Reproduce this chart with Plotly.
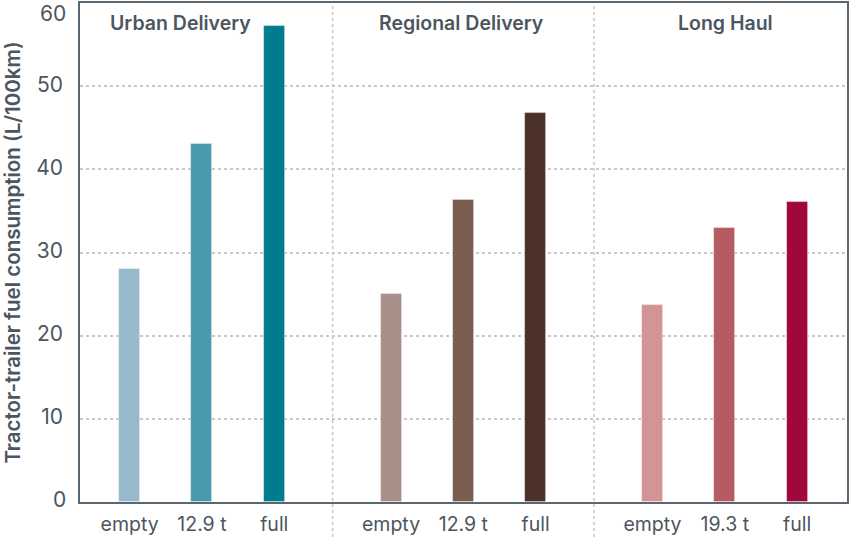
import plotly.graph_objects as go

# ---- data ----
groups = ["Urban Delivery", "Regional Delivery", "Long Haul"]
load_labels = [["empty", "12.9 t", "full"],
               ["empty", "12.9 t", "full"],
               ["empty", "19.3 t", "full"]]
urban = [28.0, 43.1, 57.2]
regional = [25.0, 36.3, 46.8]
longhaul = [23.7, 33.0, 36.1]
values = [urban, regional, longhaul]
colors = [["#96bac9", "#4a9aaf", "#007c91"],
          ["#a89088", "#7a5c50", "#4c3128"],
          ["#d39497", "#b65b63", "#a1063d"]]
y_ticks = [0, 10, 20, 30, 40, 50, 60]

# ---- layout helpers ----
STRIDE = 3.615          # distance between first bars of consecutive groups
TEXT = "#4b5660"
FONT = "Inter"
title_shift = [-21, -2, 1]   # horizontal pixel offsets of group titles

fig = go.Figure()
tickvals, ticktext = [], []
for g, (name, labs, vals, cols) in enumerate(zip(groups, load_labels, values, colors)):
    xs = [g * STRIDE + i for i in range(len(vals))]
    tickvals += xs
    ticktext += labs
    fig.add_trace(go.Bar(
        x=xs, y=vals, width=0.29,
        marker=dict(color=cols, line=dict(color="rgba(255,255,255,0.5)", width=0.8)),
        showlegend=False, hoverinfo="y",
    ))
    fig.add_annotation(x=g * STRIDE + 1, y=57.6, xref="x", yref="y",
                       xshift=title_shift[g],
                       text=name, showarrow=False,
                       font=dict(family=FONT, size=19.5, color=TEXT, weight=600))
    if g > 0:
        xsep = g * STRIDE - (STRIDE - 2) / 2
        fig.add_shape(type="line", xref="x", yref="paper", x0=xsep, x1=xsep,
                      y0=-0.07, y1=1, layer="below",
                      line=dict(color="#c6c6c6", width=1.5, dash="dot"))

# end tick labels (0 and 60) sit slightly inside the frame
for v, shift in ((y_ticks[0], 3), (y_ticks[-1], -10)):
    fig.add_annotation(xref="paper", yref="y", x=0, y=v, xanchor="right",
                       xshift=-12, yshift=shift, text=str(v), showarrow=False,
                       font=dict(family=FONT, size=21, color=TEXT))

fig.add_annotation(xref="paper", yref="paper", x=0, y=0.5, xshift=-68,
                   xanchor="center", yanchor="middle",
                   text="Tractor-trailer fuel consumption (L/100km)",
                   textangle=-90, showarrow=False,
                   font=dict(family=FONT, size=20.5, color=TEXT, weight=600))

fig.update_layout(
    width=850, height=537,
    margin=dict(l=80, r=1, t=2, b=33),
    paper_bgcolor="white", plot_bgcolor="white",
    font=dict(family=FONT, color=TEXT),
    bargap=0,
)
fig.update_xaxes(
    range=[-0.686, 2 * STRIDE + 2 + 0.69],
    tickvals=tickvals, ticktext=ticktext,
    tickfont=dict(family=FONT, size=19.5, color=TEXT),
    showgrid=False, zeroline=False,
    showline=True, mirror=True, linecolor="#5b6770", linewidth=1.5,
    ticks="outside", ticklen=4, tickcolor="rgba(0,0,0,0)",
)
fig.update_yaxes(
    range=[0, 60], tickvals=y_ticks[1:-1],
    tickfont=dict(family=FONT, size=21, color=TEXT),
    ticklabelshift=-2,
    showgrid=True, gridcolor="#c9c9c9", gridwidth=1.5, griddash="dot",
    zeroline=False,
    showline=True, mirror=True, linecolor="#5b6770", linewidth=1.5,
    ticks="outside", ticklen=11, tickcolor="rgba(0,0,0,0)",
)

fig.write_html("out.html")
